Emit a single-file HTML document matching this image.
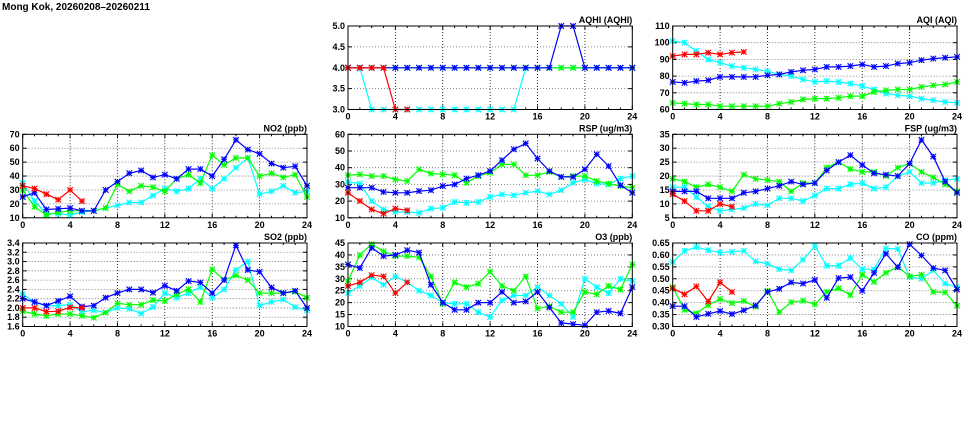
<!DOCTYPE html>
<html><head><meta charset="utf-8"><style>
html,body{margin:0;padding:0;background:#fff;width:975px;height:447px;overflow:hidden}
svg text{font-family:"Liberation Sans",sans-serif;font-weight:bold;font-size:9px;fill:#000}
</style></head><body>
<svg id="s" width="975" height="447" xmlns="http://www.w3.org/2000/svg">
<text x="2" y="10" style="font-size:10px">Mong Kok, 20260208–20260211</text>
</svg>
<script>
const S=document.getElementById('s');
const NS='http://www.w3.org/2000/svg';
function el(t,a,txt){const e=document.createElementNS(NS,t);for(const k in a)e.setAttribute(k,a[k]);if(txt!==undefined)e.textContent=txt;S.appendChild(e);return e;}
const cols=[22.7,348,672.7], rows=[26,134.3,243], W=284.3, H=83.5;
const P=[
 {c:1,r:0,t:'AQHI (AQHI)',min:3,max:5,step:0.5,dec:1,
  red:[4,4,4,4,3,3],
  cyan:[4,4,3,3,3,3,3,3,3,3,3,3,3,3,3,4,4,4,4,4,4,4,4,4,4],
  green:Array(25).fill(4),
  blue:[4,4,4,4,4,4,4,4,4,4,4,4,4,4,4,4,4,4,5,5,4,4,4,4,4]},
 {c:2,r:0,t:'AQI (AQI)',min:60,max:110,step:10,dec:0,
  red:[92,93,93,94,93,94,94.5],
  cyan:[101,100,95,90,88,86,85,84,83,81,80,78,76.5,77,76.5,75.5,74,72,69.5,68.5,68,66.5,65.5,64.5,64],
  green:[64,63.5,63,63,62,62,62,62,62,63.5,64.5,66,66.5,66.5,67,68,68,70.5,71.5,72,72,73.5,74.5,75,76.5],
  blue:[76.5,76,77,77.5,79.5,79.5,79.5,79.5,80.5,81,82.5,83.5,84,85.5,85.5,86,87,85.5,86,87.5,88,89.5,90.5,91,91.5]},
 {c:0,r:1,t:'NO2 (ppb)',min:10,max:70,step:10,dec:0,
  red:[33,31,27,23,30,22],
  cyan:[35,22,13,13,12,14,15,17,19,21,21,26,31,29,31,38,31,38,46,53,27,29,33,28,29],
  green:[30,18,12,14,15,15,15,17,34,29,33,32,29,38,41,35,55,48,53,53,40,42,39,41,25],
  blue:[25,28,16,16.5,17,15,15,30,36,42,44,39,41,38,45,45,40,52,66,59,56,49,46,47,33]},
 {c:1,r:1,t:'RSP (ug/m3)',min:10,max:60,step:10,dec:0,
  red:[25,20,15,12.5,15.5,14.5],
  cyan:[31.5,30.5,20,15,13.5,13.5,13,15.5,16,19.5,19,19.5,22.5,24,23.5,25,26,24,26.5,31,33,30.5,30,33.5,35],
  green:[35.5,36,35,35,33,32,39,36.5,36,35.5,31,35,37,42,42,35.5,35.5,37.5,34.5,35,35,32,30.5,29,28],
  blue:[28,28,28,25.5,25,25,26,26.5,29,30,33.5,35.5,38,44.5,51,54.5,45.5,38,34.5,34.5,39,48,41,29.5,25]},
 {c:2,r:1,t:'FSP (ug/m3)',min:5,max:35,step:5,dec:0,
  red:[13.5,11,7.5,7.5,10,9],
  cyan:[16,16,12.5,9,7.5,8,8.5,10,9.5,12,12,11,13,15.5,15.5,17,17.5,15.5,16,20,21.5,17.5,17.5,18.5,19],
  green:[19,18,16,17,16,14.5,20.5,19,18.5,18,14.5,17.5,17.5,23,25,22.5,21.5,21.5,20,23,24.5,21.5,19.5,17,14.5],
  blue:[14.5,14.5,14.5,12,12,12,14,14.5,15.5,16.5,18,17,17.5,22,25,27.5,24,21,20.5,20,24.5,33,27,18,14]},
 {c:0,r:2,t:'SO2 (ppb)',min:1.6,max:3.4,step:0.2,dec:1,
  red:[2.0,2.0,1.92,1.93,2.01,2.0],
  cyan:[2.3,2.12,2.05,2.05,2.07,1.92,1.95,1.9,2.0,1.98,1.88,2.02,2.32,2.22,2.32,2.45,2.22,2.4,2.82,3.0,2.05,2.13,2.18,2.02,1.95],
  green:[1.93,1.87,1.83,1.87,1.87,1.83,1.79,1.9,2.1,2.07,2.07,2.17,2.15,2.3,2.4,2.13,2.83,2.6,2.7,2.6,2.32,2.32,2.32,2.35,2.22],
  blue:[2.2,2.13,2.05,2.15,2.25,2.03,2.05,2.22,2.32,2.4,2.4,2.33,2.48,2.37,2.58,2.55,2.32,2.6,3.35,2.82,2.78,2.44,2.32,2.37,2.0]},
 {c:1,r:2,t:'O3 (ppb)',min:10,max:45,step:5,dec:0,
  red:[27,28.5,31.5,31,24,28.5],
  cyan:[24,27,30.5,27.5,31,28.5,25,23,20,19.5,19.5,16,14,21,23,23,26.5,23,19.5,14,30,26.5,24,30,29],
  green:[29,40,44.5,41.5,39.5,39.5,39,31,19.5,28.5,26.5,28,33,27,25,31,17.5,18.5,16,16,24.5,23.5,27,25.5,36],
  blue:[36,34.5,43,39.5,40,42,41,27.5,20,17,17,20,20,24.5,20,20.5,24.5,18,11.5,11,10.5,16,16.5,15.5,26.5]},
 {c:2,r:2,t:'CO (ppm)',min:0.30,max:0.65,step:0.05,dec:2,
  red:[.46,.435,.468,.405,.485,.445],
  cyan:[.57,.617,.633,.62,.61,.613,.617,.573,.563,.54,.535,.58,.637,.555,.555,.587,.54,.54,.627,.625,.507,.5,.535,.48,.465],
  green:[.465,.37,.355,.39,.415,.398,.407,.383,.45,.36,.402,.408,.393,.445,.46,.432,.517,.487,.525,.55,.51,.517,.445,.443,.387],
  blue:[.385,.385,.34,.353,.365,.352,.368,.388,.445,.458,.485,.48,.495,.42,.503,.507,.45,.525,.605,.548,.645,.598,.545,.535,.455]}
];
const colors={cyan:'#00ffff',green:'#00ff00',blue:'#0000ff',red:'#ff0000'};
for(const p of P){
  const x0=cols[p.c],y0=rows[p.r];
  const X=i=>x0+i*W/24, Y=v=>y0+H-(v-p.min)/(p.max-p.min)*H;
  const n=Math.round((p.max-p.min)/p.step);
  for(let k=0;k<=n;k++){
    const v=p.min+k*p.step,y=Y(v);
    if(k>0&&k<n) el('line',{x1:x0,x2:x0+W,y1:y,y2:y,stroke:'#666','stroke-width':0.8,'stroke-dasharray':'1,2'});
    el('line',{x1:x0,x2:x0+4,y1:y,y2:y,stroke:'#000'});
    el('line',{x1:x0+W-4,x2:x0+W,y1:y,y2:y,stroke:'#000'});
    el('text',{x:x0-3,y:y+3,'text-anchor':'end'},v.toFixed(p.dec));
  }
  for(let i=0;i<=24;i++){
    const x=X(i);
    if(i%4==0){
      if(i>0&&i<24) el('line',{x1:x,x2:x,y1:y0,y2:y0+H,stroke:'#000','stroke-width':0.8,'stroke-dasharray':'1,2'});
      el('line',{x1:x,x2:x,y1:y0+H,y2:y0+H-4,stroke:'#000'});
      el('line',{x1:x,x2:x,y1:y0,y2:y0+4,stroke:'#000'});
      el('text',{x:x,y:y0+H+10,'text-anchor':'middle'},String(i));
    } else {
      el('line',{x1:x,x2:x,y1:y0+H,y2:y0+H-2,stroke:'#000'});
      el('line',{x1:x,x2:x,y1:y0,y2:y0+2,stroke:'#000'});
    }
  }
  el('text',{x:x0+W,y:y0-3,'text-anchor':'end'},p.t);
  for(const c of ['cyan','green','blue','red']){
    const d=p[c];
    const pts=d.map((v,i)=>X(i).toFixed(1)+','+Y(v).toFixed(1)).join(' ');
    el('polyline',{points:pts,fill:'none',stroke:colors[c],'stroke-width':1.2});
    d.forEach((v,i)=>{const x=X(i),y=Y(v),r=2.8;
      el('path',{d:`M${x-r},${y-r}L${x+r},${y+r}M${x-r},${y+r}L${x+r},${y-r}M${x-r},${y}L${x+r},${y}M${x},${y-r}L${x},${y+r}`,stroke:colors[c],'stroke-width':1.1});
    });
  }
  el('rect',{x:x0,y:y0,width:W,height:H,fill:'none',stroke:'#000','stroke-width':1});
}
</script>
</body></html>
